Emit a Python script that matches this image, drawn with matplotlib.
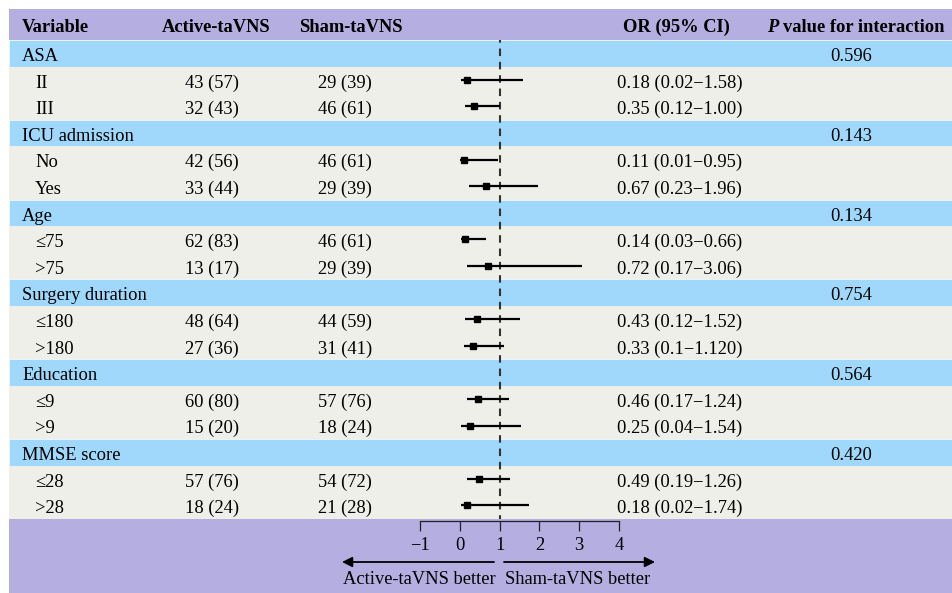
import matplotlib.pyplot as plt
from matplotlib.patches import Rectangle

plt.rcParams['font.family'] = ['Liberation Serif', 'DejaVu Serif']

# table content
groups = ['ASA', 'ICU admission', 'Age', 'Surgery duration', 'Education', 'MMSE score']
p_values = ['0.596', '0.143', '0.134', '0.754', '0.564', '0.420']
sub_labels = [['II', 'III'], ['No', 'Yes'], ['≤75', '>75'],
              ['≤180', '>180'], ['≤9', '>9'], ['≤28', '>28']]
active = [['43 (57)', '32 (43)'], ['42 (56)', '33 (44)'], ['62 (83)', '13 (17)'],
          ['48 (64)', '27 (36)'], ['60 (80)', '15 (20)'], ['57 (76)', '18 (24)']]
sham = [['29 (39)', '46 (61)'], ['46 (61)', '29 (39)'], ['46 (61)', '29 (39)'],
        ['44 (59)', '31 (41)'], ['57 (76)', '18 (24)'], ['54 (72)', '21 (28)']]
or_est = [[0.18, 0.35], [0.11, 0.67], [0.14, 0.72], [0.43, 0.33], [0.46, 0.25], [0.49, 0.18]]
or_lo = [[0.02, 0.12], [0.01, 0.23], [0.03, 0.17], [0.12, 0.10], [0.17, 0.04], [0.19, 0.02]]
or_hi = [[1.58, 1.00], [0.95, 1.96], [0.66, 3.06], [1.52, 1.12], [1.24, 1.54], [1.26, 1.74]]
or_text = [['0.18 (0.02\u22121.58)', '0.35 (0.12\u22121.00)'],
           ['0.11 (0.01\u22120.95)', '0.67 (0.23\u22121.96)'],
           ['0.14 (0.03\u22120.66)', '0.72 (0.17\u22123.06)'],
           ['0.43 (0.12\u22121.52)', '0.33 (0.1\u22121.120)'],
           ['0.46 (0.17\u22121.24)', '0.25 (0.04\u22121.54)'],
           ['0.49 (0.19\u22121.26)', '0.18 (0.02\u22121.74)']]
x_ticks = [-1, 0, 1, 2, 3, 4]

PURPLE = '#b5aee0'
BLUE = '#a0d8fb'
GREY = '#efefea'
FS = 13.3

W, H = 953, 593
top0, rh = 40, 26.6
nrows = 18

fig = plt.figure(figsize=(W / 100, H / 100), dpi=100)
ax = fig.add_axes([0, 0, 1, 1])
ax.set_xlim(0, W)
ax.set_ylim(H, 0)
ax.axis('off')

# header and footer bands
ax.add_patch(Rectangle((9, 9), W - 10, top0 - 9, color=PURPLE, lw=0))
ax.add_patch(Rectangle((9, top0 + nrows * rh), W - 10, H, color=PURPLE, lw=0))

ax.text(22, 32, 'Variable', fontsize=FS, fontweight='bold')
ax.text(216, 32, 'Active-taVNS', fontsize=FS, fontweight='bold', ha='center')
ax.text(351, 32, 'Sham-taVNS', fontsize=FS, fontweight='bold', ha='center')
ax.text(676, 32, 'OR (95% CI)', fontsize=FS, fontweight='bold', ha='center')
ax.text(767, 32, 'P', fontsize=FS, fontweight='bold', style='italic')
ax.text(783, 32, 'value for interaction', fontsize=FS, fontweight='bold')

row = 0
rows_y = []
for g in range(len(groups)):
    y = top0 + row * rh
    ax.add_patch(Rectangle((9, y), W - 10, rh, facecolor=BLUE, edgecolor='#f4f8fb', lw=0.5))
    ax.text(22, y + 21, groups[g], fontsize=FS)
    ax.text(851, y + 21, p_values[g], fontsize=FS, ha='center')
    row += 1
    for k in range(2):
        y = top0 + row * rh
        ax.add_patch(Rectangle((9, y), W - 10, rh, facecolor=GREY, lw=0))
        ax.text(35, y + 21, sub_labels[g][k], fontsize=FS)
        ax.text(212, y + 21, active[g][k], fontsize=FS, ha='center')
        ax.text(345, y + 21, sham[g][k], fontsize=FS, ha='center')
        ax.text(617, y + 21, or_text[g][k], fontsize=FS)
        rows_y.append((row + 0.5, or_est[g][k], or_lo[g][k], or_hi[g][k]))
        row += 1

# forest plot axes
x0, x1 = 420, 619
y_bot = top0 + nrows * rh
axf = fig.add_axes([x0 / W, (H - y_bot) / H, (x1 - x0) / W, (y_bot - top0) / H])
axf.patch.set_alpha(0)
axf.set_xlim(-1, 4)
axf.set_ylim(nrows, 0)
for s in ['left', 'right', 'top']:
    axf.spines[s].set_visible(False)
axf.spines['bottom'].set_position(('outward', 1.5))
axf.spines['bottom'].set_linewidth(0.9)
axf.spines['bottom'].set_color('#222222')
axf.set_yticks([])
axf.set_xticks(x_ticks)
axf.set_xticklabels([str(t).replace('-', '\u2212') for t in x_ticks], fontsize=FS)
axf.tick_params(axis='x', direction='out', length=7.5, width=0.9, color='#222222', pad=4)

axf.plot([1, 1], [0, nrows], color='#333333', lw=1.5, linestyle=(2.3, (3.6, 2.8)), zorder=2)
for yc, est, lo, hi in rows_y:
    axf.plot([lo, hi], [yc, yc], color='black', lw=1.6, solid_capstyle='butt', zorder=3)
    axf.plot(est, yc, marker='s', color='black', markersize=4.5, zorder=4)

# direction arrows
ax.annotate('', xy=(342, 562), xytext=(494, 562),
            arrowprops=dict(arrowstyle='-|>', mutation_scale=15, lw=1.3, color='black',
                            shrinkA=0, shrinkB=0))
ax.annotate('', xy=(655, 562), xytext=(504, 562),
            arrowprops=dict(arrowstyle='-|>', mutation_scale=15, lw=1.3, color='black',
                            shrinkA=0, shrinkB=0))
ax.text(496, 584, 'Active-taVNS better', fontsize=FS, ha='right')
ax.text(505, 584, 'Sham-taVNS better', fontsize=FS, ha='left')

fig.savefig('out.png', dpi=100)
